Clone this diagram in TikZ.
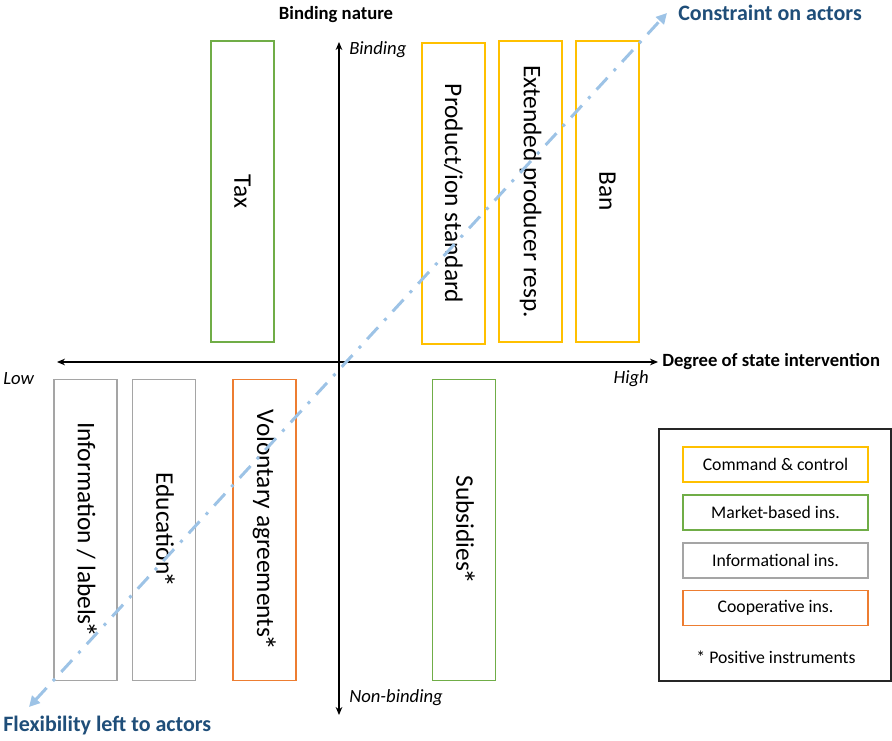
\documentclass[tikz,border=0pt]{standalone}
\usepackage{fontspec}
\setmainfont{Carlito}
\usetikzlibrary{arrows.meta}
\definecolor{ccyellow}{RGB}{255,192,0}
\definecolor{mbgreen}{RGB}{112,173,71}
\definecolor{ingray}{RGB}{165,165,165}
\definecolor{coorange}{RGB}{237,125,49}
\definecolor{lblue}{RGB}{157,195,230}
\definecolor{dblue}{RGB}{31,78,121}
\newcommand{\bigast}{{\kern-0.12em\fontsize{24pt}{20pt}\selectfont\raisebox{-0.12em}{*}}}
\tikzset{
  instbox/.style={draw=#1, line width=1.1pt, rotate=-90, inner sep=0pt,
    minimum width=301*0.75pt, minimum height=63*0.75pt,
    font=\fontsize{19pt}{21pt}\selectfont},
  legbox/.style={draw=#1, line width=1.1pt, inner sep=0pt,
    minimum width=185*0.75pt, minimum height=35*0.75pt,
    font=\fontsize{13.3pt}{15pt}\selectfont},
  axislbl/.style={inner sep=0pt, font=\fontsize{14pt}{16pt}\selectfont\bfseries},
  endlbl/.style={inner sep=0pt, font=\fontsize{14pt}{16pt}\selectfont\itshape},
  bluelbl/.style={inner sep=0pt, text=dblue, font=\fontsize{16.5pt}{18pt}\selectfont\bfseries},
  axisline/.style={line width=0.8pt, black, {Stealth[length=6pt,width=5pt]}-{Stealth[length=6pt,width=5pt]}},
  trendline/.style={line width=2.25pt, lblue, dash pattern=on 12pt off 7pt on 2.25pt off 7pt,
    {Triangle[length=8pt,width=8pt]}-{Triangle[length=8pt,width=8pt]}}
}
\begin{document}
\begin{tikzpicture}[x=0.75pt,y=-0.75pt]
\useasboundingbox (0,0) rectangle (892,741);
% axes
\coordinate (ytop) at (339,42);
\coordinate (ybot) at (339,715);
\coordinate (xleft) at (57,362);
\coordinate (xright) at (658,362);
\draw[axisline] (ytop) -- (ybot);
\draw[axisline] (xleft) -- (xright);
% instrument boxes
\node[instbox=mbgreen] (tax) at (242.5,191.5) {Tax};
\node[instbox=ccyellow] (prod) at (453.5,193.5) {Product/ion standard};
\node[instbox=ccyellow] (epr) at (530.5,191.5) {Extended producer resp.};
\node[instbox=ccyellow] (ban) at (607.5,191.5) {Ban};
\node[instbox=ingray] (info) at (85.5,530) {Information / labels\bigast};
\node[instbox=ingray] (edu) at (164,530) {Education\bigast};
\node[instbox=coorange] (vol) at (264.5,530) {Volontary agreements\bigast};
\node[instbox=mbgreen] (sub) at (464,530) {Subsidies\bigast};
% trend line
\coordinate (flex) at (29,707);
\coordinate (constr) at (667,13);
\draw[trendline] (flex) -- (constr);
% labels
\node[axislbl] (bn) at (336,15) {Binding nature};
\node[endlbl, anchor=west] (bind) at (349,50) {Binding};
\node[endlbl, anchor=west] (nonbind) at (349,698) {Non-binding};
\node[endlbl, anchor=west] (low) at (3,379) {Low};
\node[endlbl, anchor=east] (high) at (649,379) {High};
\node[axislbl, anchor=west] (dsi) at (662,362) {Degree of state intervention};
\node[bluelbl, anchor=west] (coa) at (678,13) {Constraint on actors};
\node[bluelbl, anchor=west] (fla) at (3,726) {Flexibility left to actors};
% legend
\node[draw=black!85, line width=1.5pt, minimum width=232*0.75pt, minimum height=252*0.75pt, inner sep=0pt] (legend) at (775,555) {};
\node[legbox=ccyellow] (lcc) at (775.5,464.5) {Command \& control};
\node[legbox=mbgreen] (lmb) at (775.5,512.5) {Market-based ins.};
\node[legbox=ingray] (lin) at (775.5,560.5) {Informational ins.};
\node[legbox=coorange] (lco) at (775.5,608) {Cooperative ins.};
\node[inner sep=0pt, font=\fontsize{13.3pt}{15pt}\selectfont] (lpos) at (776,657) {* Positive instruments};
\end{tikzpicture}
\end{document}
